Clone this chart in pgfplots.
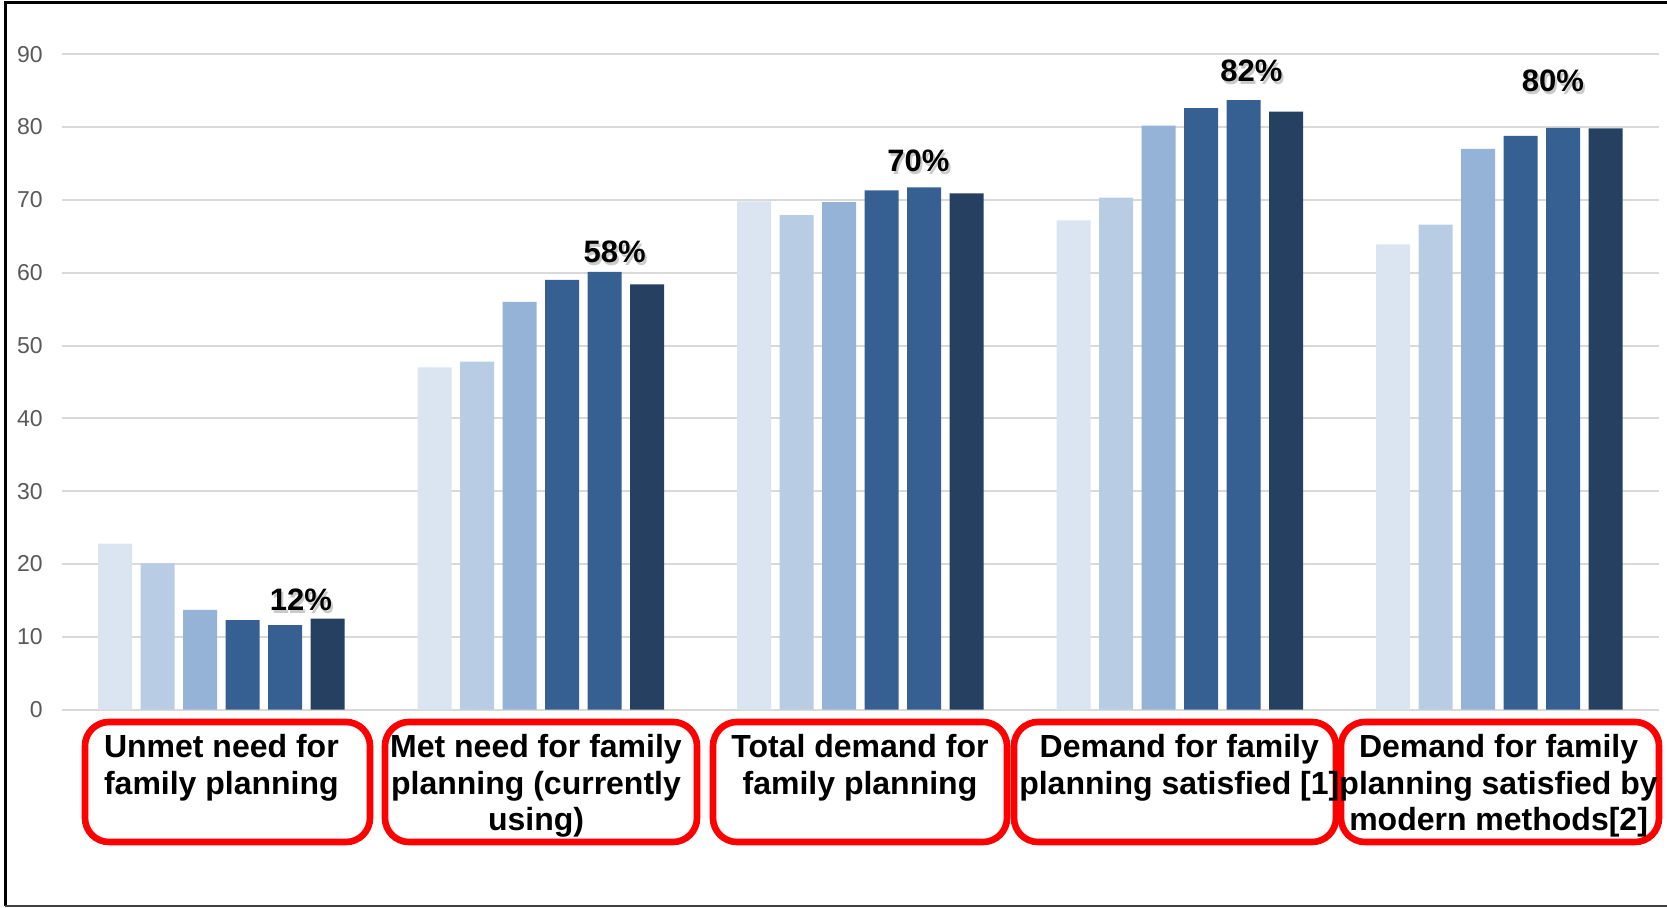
\documentclass[border=0pt]{standalone}
\usepackage{pgfplots}
\pgfplotsset{compat=1.18}
\usepackage{fontspec}
\setmainfont{Liberation Sans}
\definecolor{c1}{HTML}{DBE5F1}
\definecolor{c2}{HTML}{B8CCE4}
\definecolor{c3}{HTML}{95B3D7}
\definecolor{c4}{HTML}{376092}
\definecolor{c5}{HTML}{376092}
\definecolor{c6}{HTML}{254061}
\definecolor{gridc}{HTML}{D9D9D9}
\definecolor{tickc}{HTML}{595959}
\definecolor{boxred}{HTML}{FF0000}
\newcommand{\dlab}[3]{%
  \node[font=\fontsize{15.5}{16}\selectfont\bfseries, text=black!35, opacity=0.6, inner sep=0pt] at ([xshift=1pt,yshift=-1.5pt]axis cs:#1,#2) {#3};
  \node[font=\fontsize{15.5}{16}\selectfont\bfseries, inner sep=0pt] at (axis cs:#1,#2) {#3};}
\begin{document}
\begin{tikzpicture}
\begin{axis}[
  at={(30.85pt,-354.85pt)}, anchor=south west,
  scale only axis, width=798.65pt, height=327.75pt,
  xmin=-0.5, xmax=4.5, ymin=0, ymax=90,
  ybar=4.25pt, bar width=17pt,
  xtick=\empty,
  ytick={0,10,...,90},
  ymajorgrids, grid style={gridc, line width=1pt},
  axis line style={draw=none}, tick style={draw=none},
  yticklabel style={font=\fontsize{11.5}{12}\selectfont, text=tickc, xshift=-6pt},
  /pgf/number format/assume math mode=true,
  clip=false,
]
\addplot[fill=c1, draw=none] coordinates {(0,22.8) (1,47.0) (2,69.8) (3,67.2) (4,63.9)};
\addplot[fill=c2, draw=none] coordinates {(0,20.1) (1,47.8) (2,67.9) (3,70.3) (4,66.6)};
\addplot[fill=c3, draw=none] coordinates {(0,13.7) (1,56.0) (2,69.7) (3,80.2) (4,77.0)};
\addplot[fill=c4, draw=none] coordinates {(0,12.3) (1,59.0) (2,71.3) (3,82.6) (4,78.8)};
\addplot[fill=c5, draw=none] coordinates {(0,11.6) (1,60.1) (2,71.7) (3,83.7) (4,79.9)};
\addplot[fill=c6, draw=none] coordinates {(0,12.5) (1,58.4) (2,70.9) (3,82.1) (4,79.8)};
\dlab{0.249}{15.06}{12\%}
\dlab{1.231}{62.9}{58\%}
\dlab{2.182}{75.4}{70\%}
\dlab{3.224}{87.7}{82\%}
\dlab{4.168}{86.3}{80\%}
\end{axis}
\begin{scope}[x=0.5pt,y=-0.5pt]
\path[use as bounding box] (0,0) rectangle (1667,908);
\draw[black, line width=1.5pt] (5,906) -- (5,3) -- (1667,3);
\draw[black!75, line width=1pt] (5,906) -- (1667,906);
\tikzset{lbox/.style={draw=boxred, line width=3.3pt, rounded corners=12pt}}
\draw[lbox] (85,722) rectangle (370,842);
\draw[lbox] (385,722) rectangle (697,842);
\draw[lbox] (713,722) rectangle (1007,842);
\draw[lbox] (1014,722) rectangle (1336,842);
\draw[lbox] (1341,722) rectangle (1659,842);
\tikzset{ltxt/.style={anchor=north, inner sep=0pt, align=center, font=\fontsize{16}{18.35}\selectfont\bfseries}}
\node[ltxt] at (221.4,734) {Unmet need for\\family planning};
\node[ltxt] at (536,734) {Met need for family\\planning (currently\\using)};
\node[ltxt] at (860,734) {Total demand for\\family planning};
\node[ltxt] at (1179.3,734) {Demand for family\\planning satisfied [1]};
\node[ltxt] at (1498.6,734) {Demand for family\\planning satisfied by\\modern methods[2]};
\end{scope}
\end{tikzpicture}
\end{document}
